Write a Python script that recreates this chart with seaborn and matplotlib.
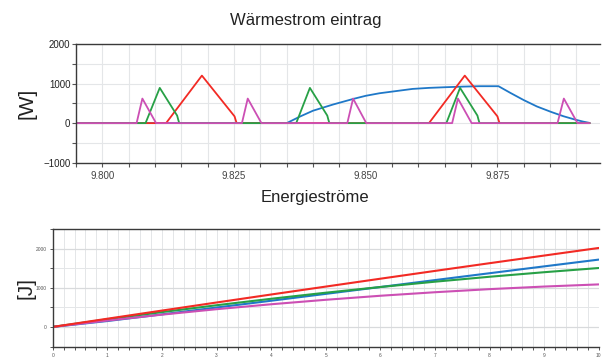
import numpy as np
import pandas as pd
import matplotlib
matplotlib.use("Agg")
import matplotlib.pyplot as plt
from matplotlib.ticker import MultipleLocator, FixedLocator, FormatStrFormatter
import seaborn as sns

# ---------------- top chart data: heat input [W] over time ----------------
t_blue = [9.7950, 9.8350, 9.8375, 9.8400, 9.8438, 9.8476, 9.8500, 9.8526, 9.8589,
          9.8620, 9.8652, 9.8685, 9.8715, 9.8752, 9.8775, 9.8800, 9.8825, 9.8852,
          9.8875, 9.8896, 9.8912, 9.8925]
w_blue = [0, 0, 165, 314, 470, 610, 690, 754, 864,
          890, 907, 922, 932, 932, 760, 581, 420, 282,
          175, 94, 40, 5]

t_red = [9.7950, 9.8121, 9.8189, 9.8251, 9.8253, 9.8255, 9.8620, 9.8688, 9.8750,
         9.8752, 9.8754, 9.8925]
w_red = [0, 0, 1200, 170, 80, 0, 0, 1200, 170, 80, 0, 0]

t_green = [9.7950, 9.8082, 9.8109, 9.8142, 9.8144, 9.8146, 9.8368, 9.8394, 9.8427,
           9.8429, 9.8431, 9.8653, 9.8679, 9.8712, 9.8714, 9.8716, 9.8925]
w_green = [0, 0, 890, 190, 90, 0, 0, 890, 190, 90, 0, 0, 890, 190, 90, 0, 0]

t_mag = [9.7950, 9.8065, 9.8076, 9.8102, 9.8265, 9.8276, 9.8302, 9.8465, 9.8476,
         9.8501, 9.8664, 9.8675, 9.8701, 9.8864, 9.8876, 9.8902, 9.8925]
w_mag = [0, 0, 620, 0, 0, 620, 0, 0, 620, 0, 0, 620, 0, 0, 620, 0, 0]

# ---------------- bottom chart data: cumulative energy [J] ----------------
t_energy = [0, 1, 2, 3, 4, 5, 6, 7, 8, 9, 10]
e_red = [0, 209, 417, 623, 827, 1029, 1230, 1429, 1626, 1821, 2015]
e_blue = [0, 150, 320, 495, 668, 843, 1018, 1195, 1370, 1545, 1718]
e_green = [0, 194, 378, 553, 718, 873, 1018, 1154, 1280, 1396, 1503]
e_mag = [0, 162, 313, 452, 578, 692, 795, 885, 964, 1030, 1085]

series_names = ["blau", "rot", "gruen", "magenta"]
palette = {"blau": "#1f78c8", "rot": "#f22a24", "gruen": "#27a046", "magenta": "#cc4fb4"}

sns.set_theme(style="white")
plt.rcParams["font.family"] = ["Liberation Sans", "DejaVu Sans"]

top_df = pd.concat([
    pd.DataFrame({"t": t_blue, "v": w_blue, "s": "blau"}),
    pd.DataFrame({"t": t_red, "v": w_red, "s": "rot"}),
    pd.DataFrame({"t": t_green, "v": w_green, "s": "gruen"}),
    pd.DataFrame({"t": t_mag, "v": w_mag, "s": "magenta"}),
], ignore_index=True)

bot_df = pd.concat([
    pd.DataFrame({"t": t_energy, "v": e_blue, "s": "blau"}),
    pd.DataFrame({"t": t_energy, "v": e_green, "s": "gruen"}),
    pd.DataFrame({"t": t_energy, "v": e_mag, "s": "magenta"}),
    pd.DataFrame({"t": t_energy, "v": e_red, "s": "rot"}),
], ignore_index=True)

fig = plt.figure(figsize=(6.06, 3.6), dpi=100)
ax1 = fig.add_axes([0.1254, 0.548, 0.865, 0.330])
ax2 = fig.add_axes([0.087, 0.0375, 0.901, 0.3265])

grid_col = "#e4e6e8"
spine_col = "#3a3a3a"

# ---- top plot ----
sns.lineplot(data=top_df, x="t", y="v", hue="s", hue_order=series_names,
             palette=palette, estimator=None, sort=False, linewidth=1.3,
             legend=False, ax=ax1)
ax1.set_xlim(9.7950, 9.8945)
ax1.set_ylim(-1000, 2000)
ax1.xaxis.set_major_locator(FixedLocator([9.800, 9.825, 9.850, 9.875]))
ax1.xaxis.set_major_formatter(FormatStrFormatter("%.3f"))
ax1.xaxis.set_minor_locator(MultipleLocator(0.005))
ax1.yaxis.set_major_locator(MultipleLocator(1000))
ax1.yaxis.set_minor_locator(MultipleLocator(500))
ax1.grid(True, which="both", color=grid_col, linewidth=0.8)
ax1.set_axisbelow(True)
ax1.tick_params(which="both", direction="out", length=3, width=0.8, color="#555555",
                bottom=True, left=True)
ax1.tick_params(axis="x", labelsize=7, labelcolor="#444444", pad=3)
ax1.tick_params(axis="y", labelsize=7, labelcolor="#222222", pad=1)
ax1.set_xlabel("")
ax1.set_ylabel("[W]", fontsize=15, color="#222222", labelpad=5)
for side in ["top", "bottom", "left"]:
    ax1.spines[side].set_visible(True)
    ax1.spines[side].set_color(spine_col)
    ax1.spines[side].set_linewidth(1.0)
ax1.spines["right"].set_visible(False)

# ---- bottom plot ----
sns.lineplot(data=bot_df, x="t", y="v", hue="s", hue_order=["blau", "gruen", "magenta", "rot"],
             palette=palette, estimator=None, sort=False, linewidth=1.5,
             legend=False, ax=ax2)
ax2.set_xlim(0, 10)
ax2.set_ylim(-500, 2500)
ax2.xaxis.set_major_locator(MultipleLocator(1))
ax2.xaxis.set_minor_locator(MultipleLocator(0.2))
ax2.yaxis.set_major_locator(FixedLocator([0, 1000, 2000]))
ax2.yaxis.set_minor_locator(MultipleLocator(500))
ax2.grid(True, which="both", color=grid_col, linewidth=0.7)
ax2.grid(True, which="major", axis="y", color="#d8dadc", linewidth=0.9)
ax2.set_axisbelow(True)
ax2.tick_params(which="both", direction="out", length=2.5, width=0.7, color="#555555",
                bottom=True, left=True)
ax2.tick_params(axis="both", labelsize=3.5, labelcolor="#555555", pad=2)
ax2.set_xlabel("")
ax2.set_ylabel("[J]", fontsize=15, color="#222222", labelpad=0)
for side in ["top", "bottom", "left"]:
    ax2.spines[side].set_visible(True)
    ax2.spines[side].set_color(spine_col)
    ax2.spines[side].set_linewidth(1.0)
ax2.spines["right"].set_visible(False)

title_fam = ["Liberation Sans Narrow", "Liberation Sans", "DejaVu Sans"]
fig.text(0.505, 0.944, "Wärmestrom eintrag", ha="center", va="center",
         fontsize=12, color="#222222", family=title_fam)
fig.text(0.52, 0.452, "Energieströme", ha="center", va="center",
         fontsize=12, color="#222222", family=title_fam)

fig.savefig("out.png", dpi=100)
